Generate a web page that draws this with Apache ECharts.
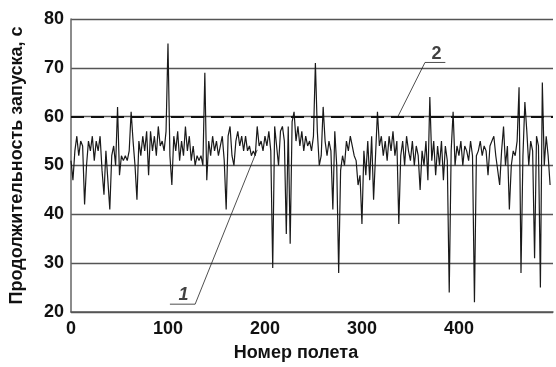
<!DOCTYPE html>
<html>
<head>
<meta charset="utf-8">
<script src="https://cdn.jsdelivr.net/npm/echarts@6/dist/echarts.min.js"></script>
<style>
  html, body { margin: 0; padding: 0; background: #fff; }
  #chart { width: 556px; height: 367px; }
</style>
</head>
<body>
<div id="chart"></div>
<script>
// номер полета шаг 2
const flightStep = 2
const durations = [
  51, 47, 53, 56, 52, 55, 54, 42, 50, 55,
  53, 56, 51, 55, 53, 56, 49, 44, 53, 47,
  41, 52, 54, 50, 62, 48, 52, 51, 52, 51,
  53, 61, 55, 50, 43, 55, 52, 56, 53, 57,
  48, 57, 53, 56, 52, 58, 54, 55, 53, 57,
  75, 52, 46, 56, 53, 57, 51, 55, 52, 58,
  53, 56, 51, 54, 50, 52, 51, 52, 50, 69,
  47, 55, 52, 56, 53, 55, 52, 54, 56, 51,
  41, 56, 58, 52, 50, 55, 57, 54, 56, 53,
  56, 53, 54, 52, 53, 52, 58, 54, 55, 53,
  56, 54, 57, 53, 29, 58, 54, 50, 57, 58,
  55, 36, 58, 34, 59, 61, 55, 58, 54, 57,
  53, 56, 54, 55, 53, 56, 71, 57, 50, 52,
  62, 55, 52, 55, 53, 41, 57, 50, 28, 49,
  52, 50, 55, 53, 56, 54, 52, 51, 46, 48,
  38, 53, 48, 55, 47, 56, 43, 52, 61, 54,
  56, 52, 55, 51, 56, 53, 57, 52, 55, 38,
  52, 55, 50, 56, 53, 51, 55, 50, 54, 52,
  45, 53, 50, 55, 47, 64, 51, 55, 48, 54,
  50, 55, 47, 54, 51, 24, 53, 61, 50, 54,
  52, 55, 50, 54, 53, 51, 55, 52, 22, 52,
  53, 55, 52, 54, 53, 48, 54, 55, 56, 52,
  52, 46, 53, 58, 50, 54, 41, 50, 53, 52,
  55, 66, 28, 52, 63, 57, 50, 55, 53, 31,
  56, 54, 25, 67, 50, 56, 52, 46
]
const limitValue = 60
const yTicks = [20, 30, 40, 50, 60, 70, 80]
const xTicks = [0, 100, 200, 300, 400]

// выноски 1 и 2 (в координатах данных)
const leader1 = [[102, 21.6], [128, 21.6], [192, 53.2]]
const leader2 = [[337, 60], [365, 71.1], [386, 71.1]]
const callouts = [
  { text: '1', pos: [116, 23.4], italic: true },
  { text: '2', pos: [377, 72.9], italic: false },
]

const chart = echarts.init(document.getElementById('chart'))

const seriesData = durations.map((v, i) => [i * flightStep, v])
const font = 'Liberation Sans, Arial, sans-serif'

const option = {
  animation: false,
  backgroundColor: '#fff',
  grid: { left: 70, right: 0, top: 19, bottom: 51 },
  xAxis: {
    type: 'value',
    min: 0,
    max: 497,
    interval: 100,
    name: 'Номер полета',
    nameLocation: 'middle',
    nameGap: 32,
    nameTextStyle: {
      fontFamily: font, fontWeight: 'bold', fontSize: 18, color: '#111',
      padding: [0, 32, 0, 0]
    },
    axisLine: { show: true, lineStyle: { color: '#555', width: 1.5 } },
    axisTick: { show: false },
    splitLine: { show: false },
    axisLabel: {
      fontFamily: font, fontWeight: 'bold', fontSize: 18, color: '#111', margin: 8,
      formatter: v => (xTicks.includes(v) ? String(v) : '')
    }
  },
  yAxis: {
    type: 'value',
    min: yTicks[0],
    max: yTicks[yTicks.length - 1],
    interval: 10,
    name: 'Продолжительность запуска, с',
    nameLocation: 'middle',
    nameGap: 45,
    nameTextStyle: { fontFamily: font, fontWeight: 'bold', fontSize: 18, color: '#111' },
    axisLine: { show: true, lineStyle: { color: '#666', width: 1.5 } },
    axisTick: { show: false },
    splitLine: { show: true, lineStyle: { color: '#555', width: 1.3 } },
    axisLabel: { fontFamily: font, fontWeight: 'bold', fontSize: 18, color: '#111', margin: 7 }
  },
  series: [
    {
      name: 'duration',
      type: 'line',
      data: seriesData,
      showSymbol: false,
      lineStyle: { color: '#1a1a1a', width: 1.2 },
      z: 3,
      markLine: {
        silent: true,
        symbol: 'none',
        label: { show: false },
        lineStyle: { color: '#111', type: [13, 7], width: 2 },
        data: [{ yAxis: limitValue }]
      }
    },
    {
      type: 'line',
      data: leader1,
      showSymbol: false,
      lineStyle: { color: '#222', width: 0.8 },
      z: 4
    },
    {
      type: 'line',
      data: leader2,
      showSymbol: false,
      lineStyle: { color: '#222', width: 0.8 },
      z: 4
    },
    {
      type: 'scatter',
      symbolSize: 0,
      data: callouts.map(c => ({
        value: c.pos,
        label: {
          show: true,
          position: 'inside',
          formatter: c.text,
          fontFamily: font,
          fontWeight: 'bold',
          fontStyle: c.italic ? 'italic' : 'normal',
          fontSize: 18,
          color: '#111'
        }
      })),
      z: 5
    }
  ]
}

chart.setOption(option)
</script>
</body>
</html>
